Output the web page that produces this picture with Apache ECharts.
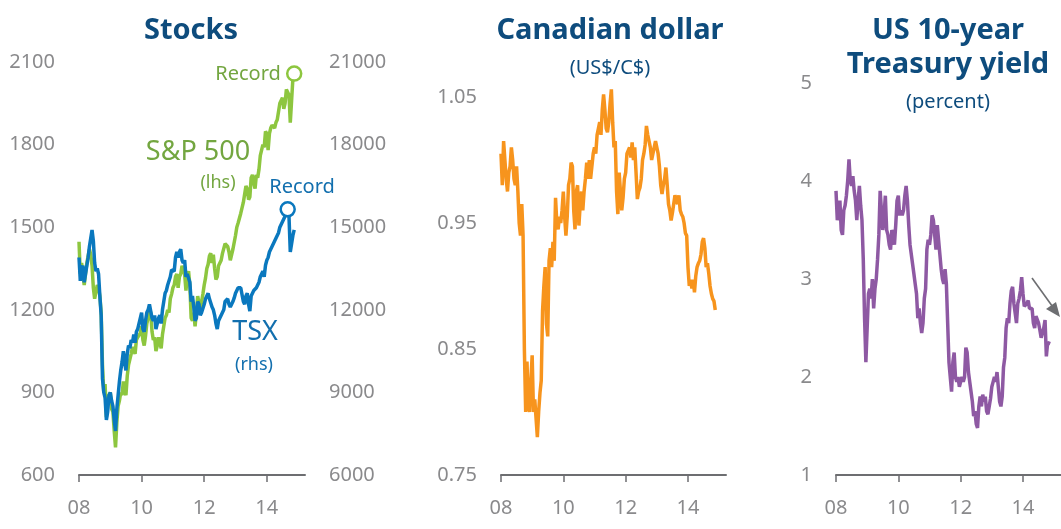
<!DOCTYPE html>
<html>
<head>
<meta charset="utf-8">
<script src="https://cdn.jsdelivr.net/npm/echarts@6/dist/echarts.min.js"></script>
<style>
  html, body { margin: 0; padding: 0; background: #fff; }
  #chart { width: 1061px; height: 529px; }
</style>
</head>
<body>
<div id="chart"></div>
<script>
// semi-monthly readings, Jan 2008 .. Nov 2014 (two points per month)
const startYear = 2008
const perYear = 24
const yearTicks = [2008, 2010, 2012, 2014]

// S&P 500 (lhs)
const spx = [
  1447, 1330, 1370, 1330, 1290, 1330, 1370, 1395, 1420, 1400, 1360, 1280, 1240, 1265, 1290, 1280, 1250, 1190, 1000, 900, 930, 810, 880, 890,
  900, 840, 830, 760, 700, 790, 850, 870, 900, 890, 940, 905, 890, 960, 1000, 1020, 1040, 1065, 1070, 1040, 1090, 1100, 1105, 1115,
  1140, 1090, 1070, 1105, 1150, 1170, 1200, 1190, 1120, 1090, 1100, 1050, 1070, 1100, 1080, 1060, 1110, 1140, 1170, 1180, 1200, 1190, 1240, 1257,
  1280, 1290, 1320, 1330, 1280, 1320, 1330, 1360, 1340, 1330, 1270, 1320, 1340, 1290, 1170, 1160, 1190, 1140, 1190, 1250, 1250, 1200, 1230, 1257,
  1290, 1315, 1350, 1365, 1395, 1405, 1370, 1400, 1350, 1310, 1320, 1360, 1360, 1380, 1405, 1410, 1440, 1440, 1430, 1410, 1380, 1400, 1420, 1426,
  1470, 1500, 1515, 1515, 1550, 1570, 1590, 1590, 1650, 1640, 1600, 1610, 1680, 1690, 1660, 1640, 1690, 1680, 1710, 1760, 1780, 1800, 1790, 1848,
  1840, 1780, 1840, 1860, 1870, 1870, 1860, 1880, 1890, 1920, 1950, 1960, 1970, 1930, 1950, 2000, 2000, 1980, 1880, 1960, 2040, 2058
]

// S&P/TSX composite (rhs)
const tsx = [
  13900, 13050, 13500, 13600, 13000, 13300, 13600, 13900, 14300, 14600, 14900, 14500, 13700, 13400, 13500, 13300, 12500, 11800, 9500, 9000, 8800, 8000, 8300, 8900,
  9000, 8700, 8500, 8000, 7600, 8400, 8900, 9400, 9800, 10100, 10500, 10100, 9800, 10400, 10700, 10600, 10900, 10800, 11100, 10800, 11200, 11300, 11500, 11700,
  11900, 11300, 11200, 11600, 11900, 12000, 12200, 12150, 11700, 11600, 11800, 11300, 11500, 11700, 11800, 11500, 12000, 12300, 12600, 12700, 12900, 12900, 13200, 13450,
  13500, 13400, 13900, 14100, 13900, 14100, 14200, 13800, 13700, 13800, 13200, 13300, 13300, 13000, 12300, 12500, 12100, 11600, 11700, 12300, 12200, 11800, 11900, 11950,
  12200, 12400, 12500, 12600, 12400, 12400, 12100, 12000, 11800, 11500, 11300, 11600, 11700, 11700, 11900, 12000, 12300, 12300, 12400, 12200, 12100, 12200, 12300, 12430,
  12600, 12700, 12800, 12800, 12800, 12750, 12300, 12200, 12500, 12600, 12200, 11950, 12500, 12600, 12700, 12650, 12800, 12800, 13000, 13200, 13300, 13400, 13200, 13620,
  13800, 13900, 14100, 14200, 14300, 14300, 14500, 14600, 14600, 14800, 15000, 15100, 15200, 15300, 15300, 15500, 15650, 15400, 14100, 14400, 14700, 14900
]

// Canadian dollar, US$ per C$
const cad = [
  1.005, 0.980, 1.015, 1.000, 0.985, 0.975, 0.990, 0.995, 1.010, 1.000, 0.985, 0.980, 0.995, 0.975, 0.950, 0.940, 0.965, 0.940, 0.850, 0.800, 0.840, 0.805, 0.800, 0.825,
  0.845, 0.800, 0.810, 0.795, 0.780, 0.800, 0.815, 0.825, 0.880, 0.900, 0.915, 0.870, 0.860, 0.920, 0.930, 0.915, 0.935, 0.920, 0.970, 0.950, 0.945, 0.955, 0.950, 0.960,
  0.975, 0.955, 0.940, 0.955, 0.980, 0.985, 0.998, 0.995, 0.960, 0.945, 0.975, 0.980, 0.948, 0.965, 0.975, 0.960, 0.975, 0.985, 0.998, 0.985, 1.000, 0.985, 0.995, 1.005,
  1.010, 1.005, 1.020, 1.025, 1.030, 1.020, 1.040, 1.052, 1.040, 1.025, 1.022, 1.030, 1.045, 1.056, 1.030, 1.010, 1.015, 0.975, 0.957, 0.990, 0.975, 0.960, 0.970, 0.985,
  0.990, 1.005, 1.005, 1.010, 1.002, 1.014, 1.000, 1.010, 0.990, 0.969, 0.975, 0.978, 0.985, 1.000, 1.005, 1.012, 1.027, 1.020, 1.020, 1.010, 1.000, 1.005, 1.010, 1.015,
  1.015, 1.005, 0.995, 0.980, 0.973, 0.980, 0.985, 0.994, 0.980, 0.965, 0.960, 0.952, 0.958, 0.965, 0.972, 0.968, 0.965, 0.972, 0.960, 0.957, 0.955, 0.950, 0.942, 0.940,
  0.915, 0.900, 0.905, 0.898, 0.905, 0.895, 0.908, 0.915, 0.918, 0.920, 0.925, 0.935, 0.938, 0.930, 0.915, 0.918, 0.910, 0.900, 0.894, 0.890, 0.888, 0.881
]

// US 10-year Treasury yield, percent
const ust10 = [
  3.90, 3.60, 3.70, 3.80, 3.50, 3.45, 3.70, 3.75, 3.85, 4.00, 4.22, 4.00, 3.95, 4.05, 3.90, 3.80, 3.60, 3.80, 3.95, 3.75, 3.60, 3.20, 2.60, 2.15,
  2.50, 2.85, 2.90, 2.80, 3.00, 2.70, 2.90, 3.00, 3.20, 3.45, 3.90, 3.70, 3.50, 3.65, 3.85, 3.50, 3.45, 3.35, 3.30, 3.50, 3.45, 3.35, 3.55, 3.80,
  3.85, 3.65, 3.70, 3.65, 3.70, 3.85, 3.95, 3.80, 3.55, 3.35, 3.25, 3.15, 3.05, 2.95, 2.85, 2.60, 2.70, 2.55, 2.45, 2.55, 2.80, 2.90, 3.30, 3.40,
  3.35, 3.45, 3.65, 3.60, 3.45, 3.30, 3.55, 3.40, 3.25, 3.10, 3.00, 2.95, 3.10, 2.95, 2.55, 2.15, 2.00, 1.85, 2.15, 2.25, 2.00, 1.95, 2.00, 1.90,
  1.95, 2.00, 1.95, 2.00, 2.30, 2.25, 2.05, 1.95, 1.85, 1.75, 1.60, 1.65, 1.52, 1.48, 1.70, 1.80, 1.70, 1.82, 1.75, 1.80, 1.65, 1.62, 1.70, 1.78,
  1.90, 1.95, 2.00, 1.95, 2.05, 1.90, 1.75, 1.70, 1.80, 2.10, 2.20, 2.50, 2.60, 2.55, 2.75, 2.88, 2.92, 2.75, 2.65, 2.55, 2.75, 2.80, 2.88, 3.02,
  2.85, 2.72, 2.70, 2.75, 2.78, 2.70, 2.68, 2.70, 2.55, 2.50, 2.62, 2.60, 2.55, 2.48, 2.40, 2.38, 2.50, 2.58, 2.21, 2.35, 2.36, 2.34
]

const green = '#8dc63f'
const greenText = '#73a640'
const blue = '#0a78be'
const blueText = '#126fae'
const orange = '#f7941d'
const purple = '#8e59a3'
const navy = '#0e4c7d'
const grey = '#8a8a8c'
const axisGrey = '#6d6e71'

// pair each reading with its date as a fractional year
const pts = arr => arr.map((v, i) => [startYear + i / perYear, v])

let charts = echarts.init(document.getElementById('chart'))

const xAxisFor = idx => ({
  type: 'value',
  gridIndex: idx,
  min: 2008,
  max: 2015.22,
  splitLine: { show: false },
  axisLine: { show: true, onZero: false, lineStyle: { color: axisGrey, width: 2 } },
  axisTick: { show: true, length: 7, customValues: yearTicks, lineStyle: { color: axisGrey, width: 1.5 } },
  axisLabel: {
    customValues: yearTicks,
    margin: 23,
    color: grey,
    fontFamily: 'Noto Sans',
    fontSize: 20,
    formatter: v => String(v).slice(2)
  }
})

const yAxisFor = (idx, min, max, interval, pos, fmt) => ({
  type: 'value',
  gridIndex: idx,
  position: pos,
  min: min,
  max: max,
  interval: interval,
  splitLine: { show: false },
  axisLine: { show: false },
  axisTick: { show: false },
  axisLabel: {
    margin: 24,
    color: grey,
    fontFamily: 'Noto Sans',
    fontSize: 20,
    formatter: fmt || (v => String(v))
  }
})

const lineSeries = (data, color, xi, yi) => ({
  type: 'line',
  data: pts(data),
  xAxisIndex: xi,
  yAxisIndex: yi,
  showSymbol: false,
  clip: false,
  lineStyle: { color: color, width: 3.5 },
  itemStyle: { color: color },
  animation: false
})

const recordMark = color => ({
  symbol: 'circle',
  symbolSize: 14,
  itemStyle: { color: '#fff', borderColor: color, borderWidth: 2.5 },
  label: { show: false },
  data: [{ type: 'max' }]
})

const txt = (text, x, y, color, size, weight) => ({
  type: 'text',
  style: {
    text: text,
    x: x,
    y: y,
    fill: color,
    font: (weight || 'normal') + ' ' + size + 'px "Noto Sans"',
    align: 'center',
    verticalAlign: 'middle'
  }
})

let spxSeries = lineSeries(spx, green, 0, 0)
spxSeries.markPoint = recordMark(green)
let tsxSeries = lineSeries(tsx, blue, 0, 1)
tsxSeries.markPoint = recordMark(blue)

let option = {
  backgroundColor: '#fff',
  grid: [
    { left: 79, top: 62, width: 226, height: 413 },
    { left: 501, top: 97, width: 225, height: 378 },
    { left: 836, top: 83, width: 225, height: 392 }
  ],
  xAxis: [xAxisFor(0), xAxisFor(1), xAxisFor(2)],
  yAxis: [
    yAxisFor(0, 600, 2100, 300, 'left'),
    yAxisFor(0, 6000, 21000, 3000, 'right'),
    yAxisFor(1, 0.75, 1.05, 0.1, 'left', v => v.toFixed(2)),
    yAxisFor(2, 1, 5, 1, 'left')
  ],
  series: [
    spxSeries,
    tsxSeries,
    lineSeries(cad, orange, 1, 2),
    lineSeries(ust10, purple, 2, 3)
  ],
  graphic: [
    txt('Stocks', 191, 31, navy, 29, 'bold'),
    txt('Canadian dollar', 610, 31, navy, 29, 'bold'),
    txt('(US$/C$)', 610, 68, navy, 20),
    txt('US 10-year', 948, 31, navy, 29, 'bold'),
    txt('Treasury yield', 948, 65, navy, 29, 'bold'),
    txt('(percent)', 948, 102, navy, 20),
    txt('Record', 248, 74, greenText, 20),
    txt('S&P 500', 198, 152, greenText, 27),
    txt('(lhs)', 218, 183, greenText, 18),
    txt('Record', 302, 187, blueText, 20),
    txt('TSX', 255, 332, blueText, 27),
    txt('(rhs)', 254, 365, blueText, 18),
    {
      type: 'polyline',
      shape: { points: [[1032, 278], [1055, 310]] },
      style: { stroke: axisGrey, lineWidth: 1.6, fill: null }
    },
    {
      type: 'polygon',
      shape: { points: [[1060, 317], [1046, 309], [1056, 302]] },
      style: { fill: axisGrey }
    }
  ]
}

charts.setOption(option)
</script>
</body>
</html>
